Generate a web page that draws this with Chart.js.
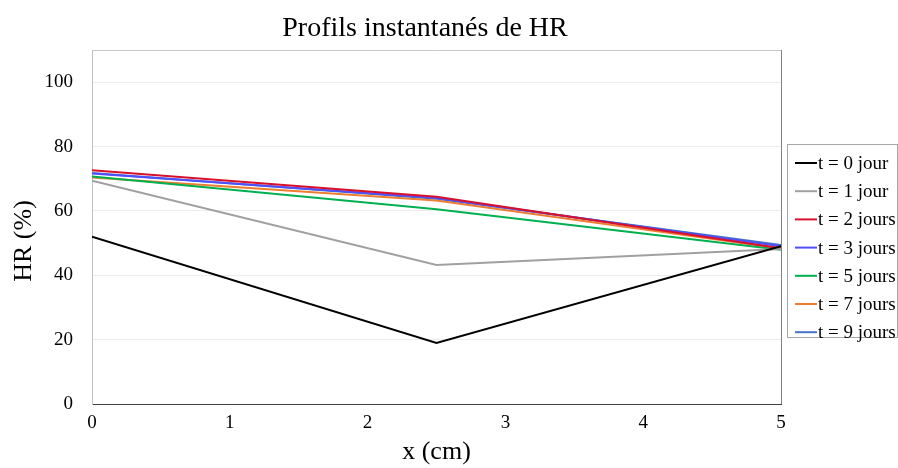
<!DOCTYPE html>
<html>
<head>
<meta charset="utf-8">
<script src="https://cdn.jsdelivr.net/npm/chart.js@4/dist/chart.umd.min.js"></script>
<style>
  html, body { margin: 0; padding: 0; background: #fff; }
  #wrap { width: 898px; height: 468px; }
</style>
</head>
<body>
<div id="wrap"><canvas id="hrChart" width="898" height="468"></canvas></div>
<script>
// positions (cm) where HR was measured
var positions = [0, 2.5, 5];

var labels = ['t = 0 jour', 't = 1 jour', 't = 2 jours', 't = 3 jours', 't = 5 jours', 't = 7 jours', 't = 9 jours'];
var colors = ['#000000', '#a0a0a0', '#d9102c', '#4f4fff', '#00b050', '#ed7d31', '#4472c4'];

// HR (%) values
var hr_t0 = [52, 19, 49];
var hr_t1 = [69.4, 43.2, 48.2];
var hr_t2 = [72.6, 64.4, 48.4];
var hr_t3 = [71.6, 64, 49];
var hr_t5 = [70.7, 60.5, 47.9];
var hr_t7 = [70.4, 63.2, 48.3];
var hr_t9 = [71.8, 63.8, 49.4];

var series = [hr_t0, hr_t1, hr_t2, hr_t3, hr_t5, hr_t7, hr_t9];

var yTicks = [0, 20, 40, 60, 80, 100];
var xTicks = [0, 1, 2, 3, 4, 5];

var serif = "'Liberation Serif', 'Times New Roman', serif";

var datasets = [];
for (var i in series) {
  var pts = [];
  for (var j in positions) {
    pts.push({ x: positions[j], y: series[i][j] });
  }
  datasets.push({
    label: labels[i],
    data: pts,
    borderColor: colors[i],
    backgroundColor: colors[i],
    borderWidth: 2,
    pointRadius: 0,
    tension: 0,
    fill: false
  });
}

// title, y title, frame and boxed legend
var decor = {
  id: 'decor',
  afterDatasetsDraw: function(chart) {
    var ctx = chart.ctx;
    var a = chart.chartArea;
    ctx.save();
    // top and right edges of the plot
    ctx.lineWidth = 1;
    ctx.strokeStyle = '#c8c8c8';
    ctx.beginPath();
    ctx.moveTo(a.left, a.top + 0.5);
    ctx.lineTo(a.right, a.top + 0.5);
    ctx.stroke();
    ctx.strokeStyle = '#808080';
    ctx.beginPath();
    ctx.moveTo(Math.round(a.right) + 0.5, a.top);
    ctx.lineTo(Math.round(a.right) + 0.5, a.bottom);
    ctx.stroke();

    // title
    ctx.fillStyle = '#000';
    ctx.font = '28px ' + serif;
    ctx.textAlign = 'center';
    ctx.textBaseline = 'alphabetic';
    ctx.fillText('Profils instantanés de HR', 425, 36);

    // y axis title
    ctx.save();
    ctx.translate(24, 241);
    ctx.rotate(-Math.PI / 2);
    ctx.font = '26px ' + serif;
    ctx.textBaseline = 'middle';
    ctx.fillText('HR (%)', 0, 0);
    ctx.restore();

    // legend
    ctx.strokeStyle = '#a6a6a6';
    ctx.lineWidth = 1;
    ctx.strokeRect(787.5, 144.5, 110, 193);
    ctx.font = '19px ' + serif;
    ctx.textAlign = 'left';
    ctx.textBaseline = 'middle';
    var ds = chart.data.datasets;
    for (var k = 0; k < ds.length; k++) {
      var y = 163 + k * 28.2;
      ctx.strokeStyle = ds[k].borderColor;
      ctx.lineWidth = 2;
      ctx.beginPath();
      ctx.moveTo(795, y);
      ctx.lineTo(817, y);
      ctx.stroke();
      ctx.fillStyle = '#000';
      ctx.fillText(ds[k].label, 818, y + 1);
    }
    ctx.restore();
  }
};

var ctx = document.getElementById('hrChart');

var hrChart = new Chart(ctx, {
  type: 'line',
  data: { datasets: datasets },
  plugins: [decor],
  options: {
    responsive: false,
    animation: false,
    layout: { padding: { top: 50, right: 117, left: 0, bottom: 0 } },
    plugins: {
      legend: { display: false },
      title: { display: false },
      tooltip: { enabled: false }
    },
    scales: {
      x: {
        type: 'linear',
        min: 0,
        max: 5,
        afterFit: function(s) { s.height = 64; },
        afterBuildTicks: function(s) { s.ticks = xTicks.map(function(v) { return { value: v }; }); },
        grid: { display: false, drawTicks: false },
        border: { color: '#404040', width: 1 },
        ticks: { color: '#000', padding: 8, font: { family: serif, size: 19 } },
        title: { display: true, text: 'x (cm)', color: '#000', padding: { top: 0, bottom: 0 }, font: { family: serif, size: 26 } }
      },
      y: {
        min: 0,
        max: 110,
        afterFit: function(s) { s.width = 92; },
        afterBuildTicks: function(s) { s.ticks = yTicks.map(function(v) { return { value: v }; }); },
        grid: {
          drawTicks: false,
          color: function(c) { return c.tick && c.tick.value === 0 ? 'rgba(0,0,0,0)' : '#ececec'; }
        },
        border: { color: '#c0c0c0', width: 1 },
        ticks: { color: '#000', padding: 19, font: { family: serif, size: 19 } },
        title: { display: false }
      }
    }
  }
});
</script>
</body>
</html>
